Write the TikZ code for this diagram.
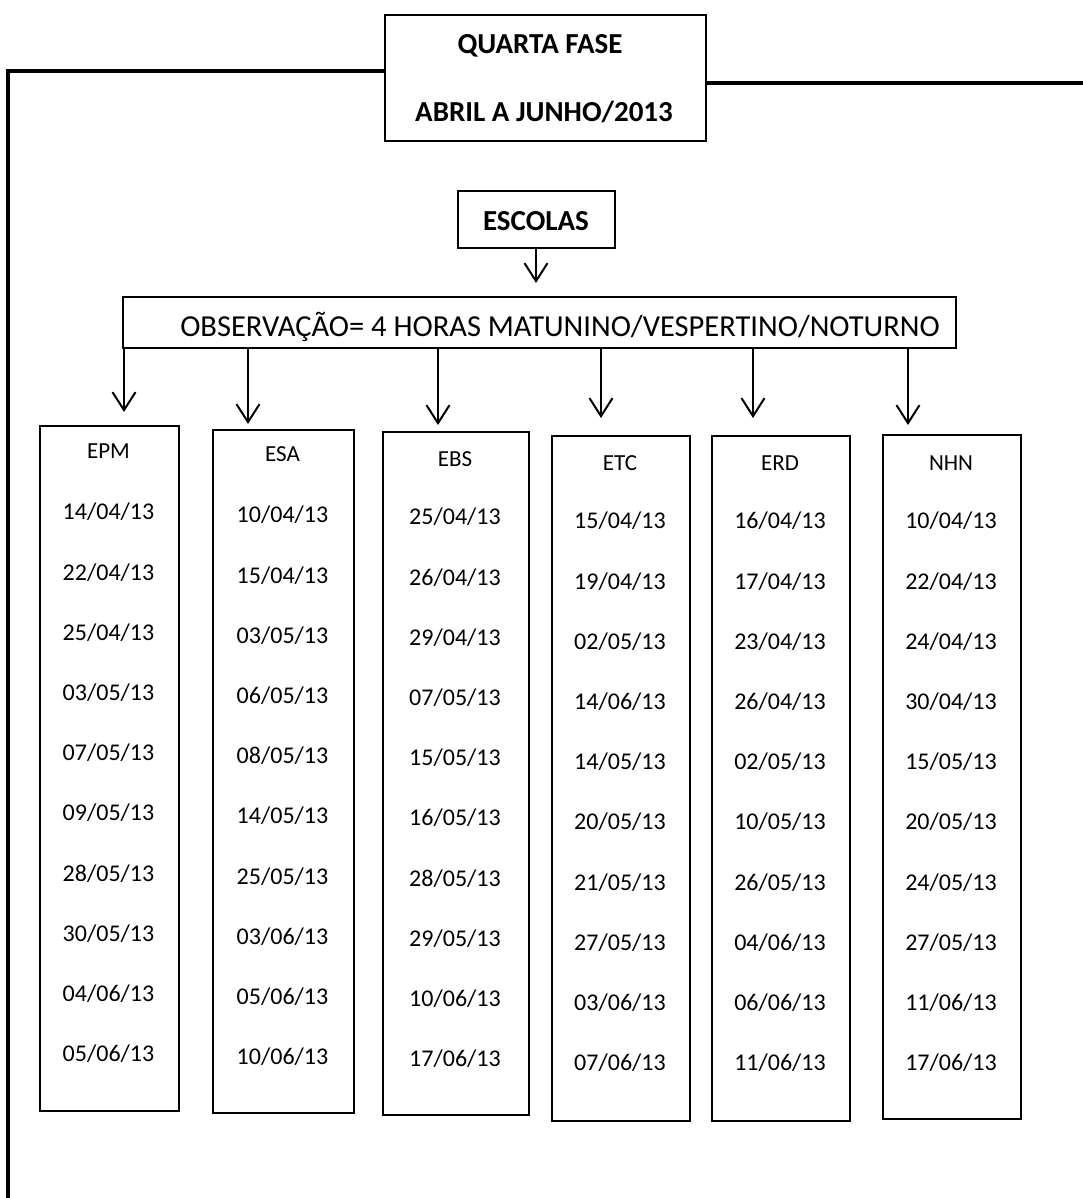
\documentclass[tikz,border=0pt]{standalone}
\usepackage{fontspec}
\setmainfont{Carlito}
\usetikzlibrary{arrows.meta}
\begin{document}
\begin{tikzpicture}[x=1pt,y=-1pt,
  boxstyle/.style={draw=black,line width=2pt,rectangle,anchor=north west,inner sep=0pt},
  conn/.style={line width=3.2pt},
  arr/.style={line width=2pt,-{Straight Barb[length=18pt,width=23pt,line width=2pt]}},
  datestyle/.style={font=\fontsize{24}{28}\selectfont,inner sep=0pt,anchor=center},
  titlestyle/.style={font=\bfseries\fontsize{29}{34}\selectfont,inner sep=0pt}]
\useasboundingbox (0,0) rectangle (1083,1198);
\fill[white] (0,0) rectangle (1083,1198);
% top box
\node[boxstyle,minimum width=321pt,minimum height=126pt] (top) at (384,14) {};
\node[titlestyle] (t1) at (540,46) {QUARTA FASE};
\node[titlestyle] (t2) at (544,112) {ABRIL A JUNHO/2013};
\coordinate (L) at (8,71);
\coordinate (Lb) at (8,1198);
\coordinate (R) at (1083,83);
\draw[conn] (top.west |- L) -- (L) -- (Lb);
\draw[conn] (top.east |- R) -- (R);
% escolas
\node[boxstyle,minimum width=157pt,minimum height=57pt] (esc) at (457,190) {};
\node[titlestyle] (esct) at (536,221) {ESCOLAS};
% observacao
\node[boxstyle,minimum width=833pt,minimum height=51pt] (obs) at (122,296) {};
\node[font=\fontsize{30.5}{34}\selectfont,inner sep=0pt] (obst) at (560,327) {OBSERVAÇÃO= 4 HORAS MATUNINO/VESPERTINO/NOTURNO};
\coordinate (escTip) at (536,283);
\draw[arr] (esc.south -| escTip) -- (escTip);
% school boxes
\foreach \nm/\xa/\xb/\ya/\yb/\ty/\dy/\tit/\dates in {
  epm/39/178/425/1110/451/512/EPM/{14/04/13,22/04/13,25/04/13,03/05/13,07/05/13,09/05/13,28/05/13,30/05/13,04/06/13,05/06/13},
  esa/212/353/429/1112/454/515/ESA/{10/04/13,15/04/13,03/05/13,06/05/13,08/05/13,14/05/13,25/05/13,03/06/13,05/06/13,10/06/13},
  ebs/382/528/431/1114/459/517/EBS/{25/04/13,26/04/13,29/04/13,07/05/13,15/05/13,16/05/13,28/05/13,29/05/13,10/06/13,17/06/13},
  etc/551/689/435/1120/463/521/ETC/{15/04/13,19/04/13,02/05/13,14/06/13,14/05/13,20/05/13,21/05/13,27/05/13,03/06/13,07/06/13},
  erd/711/849/435/1120/463/521/ERD/{16/04/13,17/04/13,23/04/13,26/04/13,02/05/13,10/05/13,26/05/13,04/06/13,06/06/13,11/06/13},
  nhn/882/1020/434/1118/463/521/NHN/{10/04/13,22/04/13,24/04/13,30/04/13,15/05/13,20/05/13,24/05/13,27/05/13,11/06/13,17/06/13}} {
  \pgfmathsetmacro{\w}{\xb-\xa}
  \pgfmathsetmacro{\h}{\yb-\ya}
  \pgfmathsetmacro{\cx}{(\xa+\xb)/2}
  \node[boxstyle,minimum width=\w pt,minimum height=\h pt] (\nm) at (\xa,\ya) {};
  \node[font=\fontsize{23}{26}\selectfont,inner sep=0pt] (\nm-title) at (\cx,\ty) {\tit};
  \foreach \d [count=\i from 0] in \dates {
    \node[datestyle] (\nm-d\i) at (\cx,{\dy+60.2*\i}) {\d};
  }
}
% arrows to schools
\foreach \nm/\ax/\tipy in {epm/124/412, esa/248/424, ebs/438/425, etc/601/418, erd/753/418, nhn/908/425} {
  \coordinate (\nm-tip) at (\ax,\tipy);
  \draw[arr] (obs.south -| \nm-tip) -- (\nm-tip);
}
\end{tikzpicture}
\end{document}
